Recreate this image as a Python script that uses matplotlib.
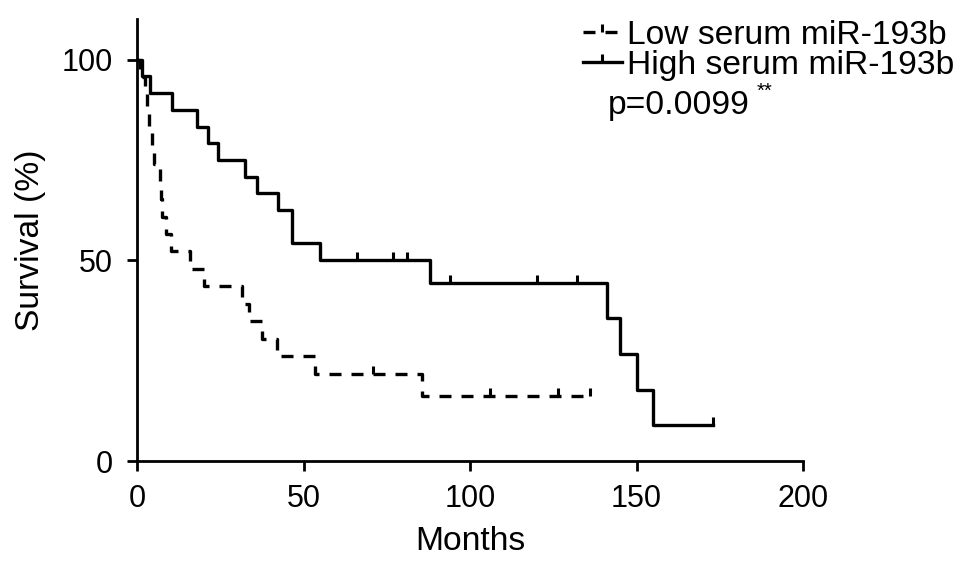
import matplotlib
matplotlib.use("Agg")
import matplotlib.pyplot as plt
from matplotlib.path import Path
from matplotlib.lines import Line2D

plt.rcParams['font.family'] = ['Liberation Sans', 'DejaVu Sans']

# Kaplan-Meier steps (months, survival %)
high_t = [0, 1.4, 4, 10.5, 18, 21.3, 24.2, 32.4, 36, 42.4, 46.4, 55, 88, 141, 145, 150, 155, 173]
high_s = [100, 95.8, 91.7, 87.5, 83.3, 79.2, 75.0, 70.8, 66.7, 62.5, 54.2, 50.0, 44.4, 35.6,
          26.7, 17.8, 8.9, 8.9]
high_cens_t = [66, 77, 81, 94, 120, 132, 173]
high_cens_s = [50.0, 50.0, 50.0, 44.4, 44.4, 44.4, 8.9]

low_t = [0, 0.8, 2.5, 3, 3.5, 4.5, 5.2, 6.8, 7.1, 7.6, 8.8, 10.3, 16, 20, 31.5, 33.5, 37.5,
         42, 53.5, 85.5, 136]
low_s = [100, 95.7, 91.3, 87.0, 82.6, 78.3, 73.9, 69.6, 65.2, 60.9, 56.5, 52.2, 47.8, 43.5,
         39.1, 34.8, 30.4, 26.1, 21.7, 16.3, 16.3]
low_cens_t = [71, 106, 126.5, 136]
low_cens_s = [21.7, 16.3, 16.3, 16.3]

labels = ["Low serum miR-193b", "High serum miR-193b"]
p_text = "p=0.0099"

FS_TICK = 22
FS = 24.2
LW = 2.4
DASH = (3.6, 3.0)
# censor mark: short vertical tick pointing up from the curve
tick_up = Path([(0, 0), (0, 1)], [Path.MOVETO, Path.LINETO])

fig = plt.figure(figsize=(9.69, 5.62), dpi=100)
ax = fig.add_axes([0.1414, 0.1797, 0.6873, 0.7858])

ax.plot(low_t, low_s, drawstyle="steps-post", color="black", lw=LW, dashes=DASH)
ax.plot(low_cens_t, low_cens_s, ls="none", marker=tick_up, ms=11, mew=2.2, color="black")
ax.plot(high_t, high_s, drawstyle="steps-post", color="black", lw=LW)
ax.plot(high_cens_t, high_cens_s, ls="none", marker=tick_up, ms=11, mew=2.2, color="black")

ax.set_xlim(0, 200)
ax.set_ylim(0, 110)
ax.set_xticks([0, 50, 100, 150, 200])
ax.set_yticks([0, 50, 100])
for side in ("top", "right"):
    ax.spines[side].set_visible(False)
for side in ("left", "bottom"):
    ax.spines[side].set_linewidth(2.0)
ax.tick_params(direction="out", length=7.5, width=2.0, labelsize=FS_TICK, colors="black")
ax.tick_params(axis="y", pad=10)
ax.tick_params(axis="x", pad=9)
ax.set_xlabel("Months", fontsize=FS, labelpad=9)
ax.set_ylabel("Survival (%)", fontsize=FS, labelpad=11)

handles = [
    Line2D([], [], color="black", lw=LW, dashes=DASH, marker=tick_up, ms=11, mew=2.2),
    Line2D([], [], color="black", lw=LW, marker=tick_up, ms=11, mew=2.2),
]
fig.legend(handles, labels, loc="upper left", bbox_to_anchor=(0.6017, 0.964),
           frameon=False, fontsize=FS, handlelength=1.15, handletextpad=0.16,
           labelspacing=-0.04, borderpad=0, borderaxespad=0, numpoints=1)
fig.text(0.627, 0.798, p_text, fontsize=FS, ha="left", va="baseline")
fig.text(0.781, 0.828, "**", fontsize=FS * 0.6, ha="left", va="baseline")

fig.savefig("out.png", dpi=100)
